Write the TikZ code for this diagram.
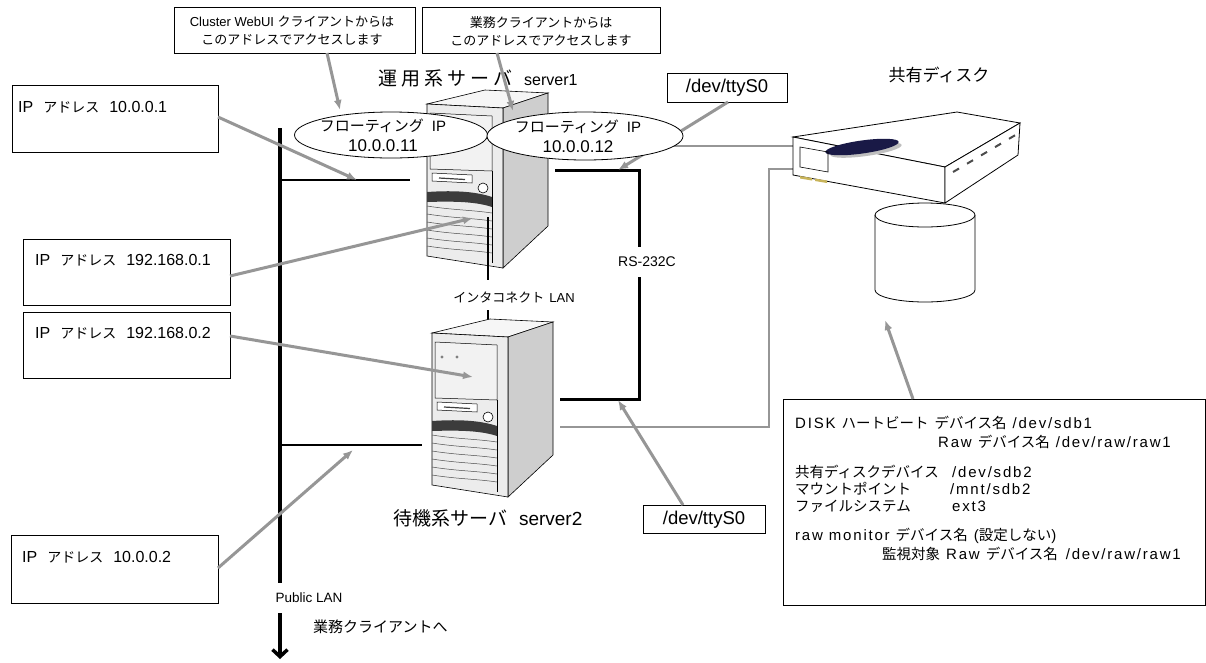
\documentclass[tikz,border=0pt]{standalone}
\usepackage{fontspec}
\setmainfont{Liberation Sans}
\newfontfamily\jp{Noto Sans CJK JP}
\newfontfamily\lsp{Liberation Sans}[LetterSpace=12]
\usetikzlibrary{shapes.geometric,arrows.meta,calc}
\newcommand\J[1]{{\jp #1}}
\newcommand\Js[2]{{\jp\fontsize{#1pt}{#1pt}\selectfont #2}}
\newcommand\fz[1]{\fontsize{#1pt}{#1pt}\selectfont}
\newcommand\Jd[1]{{\jp\fontsize{14.5pt}{14.5pt}\selectfont #1}}
\definecolor{lg}{RGB}{150,150,150}
\definecolor{srvfront}{RGB}{236,236,236}
\definecolor{srvpanel}{RGB}{242,242,242}
\definecolor{srvside}{RGB}{206,206,206}
\definecolor{srvtop}{RGB}{246,246,246}
\definecolor{srvdark}{RGB}{60,60,60}
\definecolor{navy}{RGB}{25,25,70}
\definecolor{slotc}{RGB}{200,180,90}
\tikzset{
  box/.style={draw, line width=0.8pt, fill=white, inner sep=0pt},
  txt/.style={inner sep=0pt, anchor=west},
  dtxt/.style={inner sep=0pt, anchor=west, font=\lsp\fontsize{15pt}{15pt}\selectfont},
  ctxt/.style={inner sep=0pt},
  garrow/.style={draw=lg, line width=3pt, -{Latex[length=10pt,width=8pt]}},
  gline/.style={draw=lg, line width=2.5pt},
  bline/.style={draw=black, line width=2.5pt},
  fip/.style={ellipse, draw, fill=white, line width=0.8pt, inner sep=0pt},
  pics/server/.style={code={
    \draw[line width=0.6pt, fill=srvtop] (0,0) -- (58,-14) -- (121,-11) -- (76,4) -- cycle;
    \draw[line width=0.6pt, fill=srvside] (76,4) -- (121,-11) -- (121,122) -- (76,164) -- cycle;
    \draw[line width=0.6pt, fill=srvfront] (0,0) -- (76,4) -- (76,164) -- (0,152) -- cycle;
    \draw[line width=0.5pt, fill=srvpanel] (3,9) -- (65,12) -- (65,67) -- (3,65) -- cycle;
    \fill[gray] (10,24) circle (1.6);
    \fill[gray] (25,24) circle (1.6);
    \draw[line width=0.5pt, fill=white] (5,69) -- (45,71) -- (45,79) -- (5,77) -- cycle;
    \draw[line width=1.2pt, darkgray] (12,74) -- (38,75.5);
    \draw[line width=0.6pt, fill=white] (56,84) circle (5);
    \fill[srvdark] (0,88) .. controls (30,86) and (50,88) .. (65,93) -- (65,103) .. controls (50,98) and (30,97) .. (0,98) -- cycle;
    \foreach \y in {106,114,122,130,138,146} {
      \draw[line width=0.5pt, black!70] (0,\y-4) .. controls (25,\y) and (45,\y) .. (65,\y+3);
    }
    \draw[line width=0.5pt] (65,67) -- (65,159);
  }}
}
\begin{document}
\begin{tikzpicture}[x=1pt,y=-1pt]
\useasboundingbox (0,0) rectangle (1206,662);
\fill[white] (0,0) rectangle (1206,662);

% ---------- coordinates ----------
\coordinate (lanTop) at (280,128);
\coordinate (lanBot) at (280,583);
\coordinate (lanArS) at (280,613);
\coordinate (lanArE) at (280,659);
\coordinate (h1a) at (280,180);
\coordinate (h1b) at (410,180);
\coordinate (h2a) at (280,445);
\coordinate (h2b) at (422,445);
\coordinate (ic1a) at (488,217);
\coordinate (ic1b) at (488,280);
\coordinate (ic2a) at (488,310);
\coordinate (ic2b) at (488,326);
\coordinate (rs1) at (555,170);
\coordinate (rs2) at (639,170);
\coordinate (rs3) at (639,247);
\coordinate (rs4) at (639,277);
\coordinate (rs5) at (639,399);
\coordinate (rs6) at (560,399);
\coordinate (dk1a) at (550,146);
\coordinate (dk1b) at (793,146);
\coordinate (dk2a) at (560,427);
\coordinate (dk2b) at (769,427);
\coordinate (dk2c) at (769,169);
\coordinate (dk2d) at (793,169);

% ---------- black network lines ----------
\draw[line width=4pt] (lanTop) -- (lanBot);
\draw[line width=3.5pt, -{Straight Barb[length=7pt,width=15pt]}] (lanArS) -- (lanArE);
\draw[bline] (h1a) -- (h1b);
\draw[bline] (h2a) -- (h2b);
\draw[bline] (ic2a) -- (ic2b);
\draw[line width=3pt] (rs1) -- (rs2) -- (rs3);
\draw[line width=3pt] (rs4) -- (rs5) -- (rs6);

% ---------- grey disk lines ----------
\draw[gline] (dk1a) -- (dk1b);
\draw[gline] (dk2a) -- (dk2b) -- (dk2c) -- (dk2d);

% ---------- servers ----------
\pic at (427,104) {server};
\pic at (432,333) {server};
\draw[bline] (ic1a) -- (ic1b);

% ---------- top ttyS0 box and arrow (under ellipse) ----------
\node[box, minimum width=120pt, minimum height=29pt] (tt1) at (727,87.5) {};
\node[ctxt] (tt1t) at (727,88) {\fz{18.5}/dev/ttyS0};
\coordinate (tt1s) at (728,102);
\coordinate (tt1e) at (618,170);
\draw[garrow] (tt1s) -- (tt1e);

% ---------- floating IP ellipses ----------
\node[fip, minimum width=193pt, minimum height=46pt] (e1) at (391,135) {};
\node[fip, minimum width=196pt, minimum height=48pt] (e2) at (585,136) {};
\node[ctxt, align=center, font=\fontsize{15pt}{20pt}\selectfont] (e1t) at (383,135)
  {\J{フローティング}\hspace{8pt}IP\\{\fz{17}10.0.0.11}};
\node[ctxt, align=center, font=\fontsize{15pt}{20pt}\selectfont] (e2t) at (578,136)
  {\J{フローティング}\hspace{8pt}IP\\{\fz{17}10.0.0.12}};

% ---------- titles ----------
\node[txt] (s1t) at (378,78) {\Js{19}{運\kern4pt 用\kern4pt 系\kern4pt サ\kern4pt ー\kern4pt バ}\hspace{12pt}\fz{16}server1};
\node[txt] (s2t) at (393,518) {\Js{19}{待機系サーバ}\hspace{12pt}\fz{19}server2};
\node[ctxt] (dt) at (939,75) {\Js{17}{共有ディスク}};

% ---------- callout boxes ----------
\node[box, minimum width=241pt, minimum height=46pt] (c1) at (294.5,30) {};
\node[ctxt, align=center, font=\fontsize{13pt}{18pt}\selectfont] (c1t) at (292,31)
  {Cluster WebUI \J{クライアントからは}\\\J{このアドレスでアクセスします}};
\node[box, minimum width=238pt, minimum height=46pt] (c2) at (541,30) {};
\node[ctxt, align=center, font=\fontsize{13pt}{18pt}\selectfont] (c2t) at (541,31)
  {\J{業務クライアントからは}\\\J{このアドレスでアクセスします}};
\coordinate (c1s) at (327,53);
\coordinate (c1e) at (340,110);
\coordinate (c2s) at (497,53);
\coordinate (c2e) at (513,111);
\draw[garrow] (c1s) -- (c1e);
\draw[garrow] (c2s) -- (c2e);

% ---------- left IP boxes ----------
\node[box, minimum width=206pt, minimum height=67pt] (b1) at (115,118.5) {};
\node[txt] (b1t) at (18,107) {\fz{16}IP\hspace{10pt}\Js{14}{アドレス}\hspace{10pt}10.0.0.1};
\node[box, minimum width=207pt, minimum height=66pt] (b2) at (126.5,272) {};
\node[txt] (b2t) at (35,260) {\fz{16}IP\hspace{10pt}\Js{14}{アドレス}\hspace{10pt}192.168.0.1};
\node[box, minimum width=207pt, minimum height=66pt] (b3) at (126.5,345) {};
\node[txt] (b3t) at (35,333) {\fz{16}IP\hspace{10pt}\Js{14}{アドレス}\hspace{10pt}192.168.0.2};
\node[box, minimum width=207pt, minimum height=68pt] (b4) at (114.5,569) {};
\node[txt] (b4t) at (22,557) {\fz{16}IP\hspace{10pt}\Js{14}{アドレス}\hspace{10pt}10.0.0.2};

\coordinate (b1s) at (218,117);
\coordinate (b1e) at (357,180);
\coordinate (b2s) at (230,276);
\coordinate (b2e) at (473,218);
\coordinate (b3s) at (230,336);
\coordinate (b3e) at (473,377);
\coordinate (b4s) at (218,568);
\coordinate (b4e) at (353,450);
\draw[garrow] (b1s) -- (b1e);
\draw[garrow] (b2s) -- (b2e);
\draw[garrow] (b3s) -- (b3e);
\draw[garrow] (b4s) -- (b4e);

% ---------- small labels ----------
\node[ctxt] (ict) at (514,297) {\Js{13}{インタコネクト}\hspace{5pt}\fz{13}LAN};
\node[ctxt] (rst) at (647,262) {\fz{14}RS-232C};
\node[ctxt] (plt) at (309,598) {\fz{13.5}Public LAN};
\node[txt] (gct) at (313,627) {\Js{15}{業務クライアントへ}};

% ---------- bottom ttyS0 ----------
\node[box, minimum width=122pt, minimum height=28pt] (tt2) at (704,519) {};
\node[ctxt] (tt2t) at (704,520) {\fz{18.5}/dev/ttyS0};
\coordinate (tt2s) at (683,505);
\coordinate (tt2e) at (618,400);
\draw[garrow] (tt2s) -- (tt2e);

% ---------- shared disk ----------
\draw[line width=0.8pt, fill=white] (793,137) -- (957,112) -- (1020,123) -- (945,167) -- cycle;
\draw[line width=0.8pt, fill=white] (793,137) -- (945,167) -- (945,203) -- (793,175) -- cycle;
\draw[line width=0.8pt, fill=white] (945,167) -- (1020,123) -- (1018,155) -- (945,203) -- cycle;
\fill[black!25, rotate around={8:(866,150)}] (866,150) ellipse [x radius=36, y radius=6];
\fill[navy, rotate around={8:(862,147)}] (862,147) ellipse [x radius=37, y radius=6.5];
\draw[line width=0.6pt] (800,147) -- (828,152) -- (828,172) -- (800,167) -- cycle;
\fill[slotc] (800,176) -- (812,178) -- (812,180.5) -- (800,178.5) -- cycle;
\fill[slotc] (815,178.5) -- (827,180.5) -- (827,183) -- (815,181) -- cycle;
\foreach \i in {0,...,4} {
  \draw[line width=2pt, black!70] ({953+14*\i},{172-8.3*\i}) -- ++(6,-3.5);
}
% cylinder
\draw[line width=0.8pt, fill=white] (875,215) -- (875,290) arc[start angle=180, end angle=0, x radius=50, y radius=12] -- (975,215);
\draw[line width=0.8pt, fill=white] (925,215) ellipse [x radius=50, y radius=12];

% ---------- disk info box ----------
\node[box, minimum width=422pt, minimum height=206pt] (db) at (994,502) {};
\node[dtxt] (d1) at (795,423) {DISK \Jd{ハートビート} \Jd{デバイス名} /dev/sdb1};
\node[dtxt] (d2) at (938,442) {Raw \Jd{デバイス名}\hspace{6pt}/dev/raw/raw1};
\node[dtxt] (d3a) at (795,472) {\Jd{共有ディスクデバイス}};
\node[dtxt] (d3b) at (952,472) {/dev/sdb2};
\node[dtxt] (d4a) at (795,489) {\Jd{マウントポイント}};
\node[dtxt] (d4b) at (950,489) {/mnt/sdb2};
\node[dtxt] (d5a) at (795,506) {\Jd{ファイルシステム}};
\node[dtxt] (d5b) at (952,506) {ext3};
\node[dtxt] (d6) at (795,536) {raw monitor \Jd{デバイス名} (\Jd{設定しない})};
\node[dtxt] (d7) at (882,554) {\Jd{監視対象} Raw \Jd{デバイス名}\hspace{8pt}/dev/raw/raw1};
\coordinate (dbs) at (913,399);
\coordinate (dbe) at (885,320);
\draw[garrow] (dbs) -- (dbe);
\end{tikzpicture}
\end{document}
